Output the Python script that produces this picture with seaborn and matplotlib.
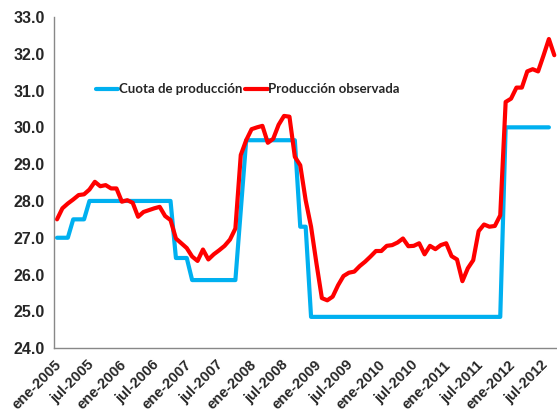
import matplotlib
matplotlib.use("Agg")
import matplotlib.pyplot as plt
import seaborn as sns
import numpy as np
import pandas as pd

# ---------------------------------------------------------------------------
# Data (monthly, ene-2005 .. sep-2012)
# ---------------------------------------------------------------------------
produccion = [
    27.50, 27.80, 27.93, 28.04, 28.16, 28.18, 28.31, 28.52, 28.40, 28.43,
    28.34, 28.34, 27.98, 28.02, 27.95, 27.57, 27.70, 27.75, 27.80, 27.84,
    27.59, 27.48, 26.98, 26.85, 26.72, 26.49, 26.37, 26.68, 26.41, 26.55,
    26.66, 26.78, 26.95, 27.25, 29.25, 29.65, 29.95, 30.00, 30.04, 29.58,
    29.69, 30.07, 30.31, 30.29, 29.20, 28.97, 28.02, 27.30, 26.30, 25.36,
    25.30, 25.40, 25.71, 25.96, 26.05, 26.08, 26.23, 26.35, 26.49, 26.64,
    26.64, 26.78, 26.80, 26.87, 26.98, 26.77, 26.78, 26.85, 26.55, 26.78,
    26.69, 26.80, 26.85, 26.50, 26.41, 25.82, 26.17, 26.39, 27.18, 27.36,
    27.30, 27.32, 27.61, 30.69, 30.78, 31.08, 31.08, 31.52, 31.58, 31.52,
    31.95, 32.40, 31.96,
]

cuota = [
    27.00, 27.00, 27.00, 27.50, 27.50, 27.50, 28.00, 28.00, 28.00, 28.00,
    28.00, 28.00, 28.00, 28.00, 28.00, 28.00, 28.00, 28.00, 28.00, 28.00,
    28.00, 28.00, 26.45, 26.45, 26.45, 25.85, 25.85, 25.85, 25.85, 25.85,
    25.85, 25.85, 25.85, 25.85, 27.75, 29.65, 29.65, 29.65, 29.65, 29.65,
    29.65, 29.65, 29.65, 29.65, 29.65, 27.30, 27.30, 24.85, 24.85, 24.85,
    24.85, 24.85, 24.85, 24.85, 24.85, 24.85, 24.85, 24.85, 24.85, 24.85,
    24.85, 24.85, 24.85, 24.85, 24.85, 24.85, 24.85, 24.85, 24.85, 24.85,
    24.85, 24.85, 24.85, 24.85, 24.85, 24.85, 24.85, 24.85, 24.85, 24.85,
    24.85, 24.85, 24.85, 30.00, 30.00, 30.00, 30.00, 30.00, 30.00, 30.00,
    30.00, 30.00,
]

tick_labels = [
    "ene-2005", "jul-2005", "ene-2006", "jul-2006", "ene-2007", "jul-2007",
    "ene-2008", "jul-2008", "ene-2009", "jul-2009", "ene-2010", "jul-2010",
    "ene-2011", "jul-2011", "ene-2012", "jul-2012",
]

df_prod = pd.DataFrame({"mes": np.arange(len(produccion)), "valor": produccion})
df_cuota = pd.DataFrame({"mes": np.arange(len(cuota)), "valor": cuota})

sns.set_style("white")
plt.rcParams["font.family"] = ["Liberation Sans", "DejaVu Sans"]

fig = plt.figure(figsize=(5.57, 4.13), dpi=100)
ax = fig.add_axes([0.0975, 0.157, 0.9025, 0.802])

sns.lineplot(data=df_cuota, x="mes", y="valor", ax=ax, color="#00B0F0",
             linewidth=3.0, label="Cuota de producción")
sns.lineplot(data=df_prod, x="mes", y="valor", ax=ax, color="#FF0000",
             linewidth=3.0, label="Producción observada")

# category axis with ticks between months (Excel style)
ax.set_xlim(-0.5, len(produccion) - 0.5)
ax.set_xticks(np.arange(len(tick_labels)) * 6 - 0.5)
ax.set_xticklabels(tick_labels, rotation=45, ha="right",
                   rotation_mode="anchor", fontsize=10.5, fontweight="bold")
ax.set_ylim(24, 33)
ax.set_yticks(np.arange(24, 34, 1))
ax.set_yticklabels([f"{v:.1f}" for v in np.arange(24, 34, 1)],
                   fontsize=11.5, fontweight="bold")
ax.set_xlabel("")
ax.set_ylabel("")

for side in ["top", "right"]:
    ax.spines[side].set_visible(False)
for side in ["left", "bottom"]:
    ax.spines[side].set_color("#888888")
    ax.spines[side].set_linewidth(1.0)
ax.tick_params(axis="both", which="major", direction="out", length=4,
               width=1.0, color="#888888", pad=3)
ax.tick_params(axis="x", pad=3)

ax.legend(loc="center", bbox_to_anchor=(0.385, 0.782), ncol=2, frameon=False,
          handlelength=1.7, handletextpad=0.05, columnspacing=0.2,
          prop={"family": "Lato", "weight": "bold", "size": 9.5})

fig.savefig("out.png", dpi=100)
